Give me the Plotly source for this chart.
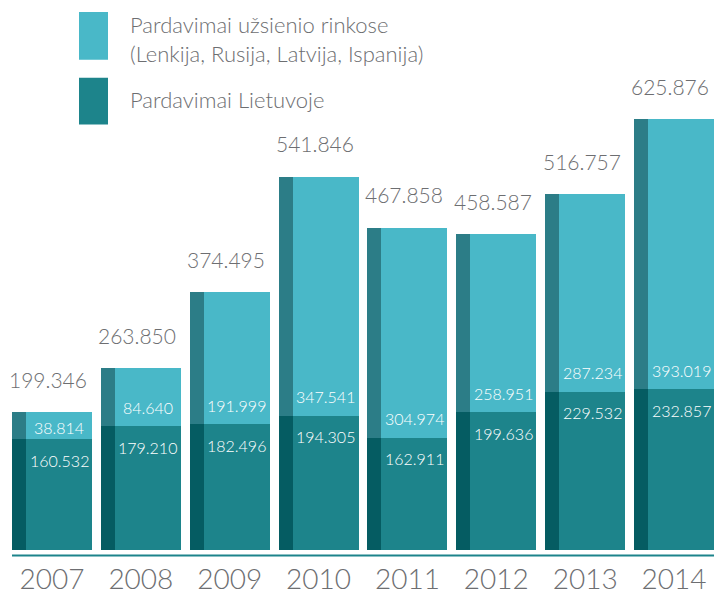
import plotly.graph_objects as go

years = ["2007", "2008", "2009", "2010", "2011", "2012", "2013", "2014"]
lietuvoje = [160.532, 179.210, 182.496, 194.305, 162.911, 199.636, 229.532, 232.857]
uzsienio = [38.814, 84.640, 191.999, 347.541, 304.974, 258.951, 287.234, 393.019]
totals = [199.346, 263.850, 374.495, 541.846, 467.858, 458.587, 516.757, 625.876]

legend_labels = ["Pardavimai užsienio rinkose<br>(Lenkija, Rusija, Latvija, Ispanija)",
                 "Pardavimai Lietuvoje"]

C_LIGHT = "#49b8c8"
C_LIGHT_SIDE = "#2c7d87"
C_DARK = "#1d848b"
C_DARK_SIDE = "#055c62"
GRAY = "#6d6e71"
FONT = "Lato"
WT = 300

W, H = 724, 595
B = 33
PH = H - B
PXU = 0.69  # pixels per unit
ZERO_PX = 551.5
ymin = -(PH - ZERO_PX) / PXU
ymax = ymin + PH / PXU

x = list(range(len(years)))
BW = 0.9
SW = 0.158
OFF = -0.45

fig = go.Figure()
fig.add_trace(go.Bar(x=x, y=lietuvoje, base=[0]*len(x), width=BW, offset=OFF,
                     marker=dict(color=C_DARK, line=dict(width=0)), name=legend_labels[1],
                     showlegend=False, hoverinfo="skip"))
fig.add_trace(go.Bar(x=x, y=uzsienio, base=lietuvoje, width=BW, offset=OFF,
                     marker=dict(color=C_LIGHT, line=dict(width=0)), name=legend_labels[0],
                     showlegend=False, hoverinfo="skip"))
fig.add_trace(go.Bar(x=x, y=lietuvoje, base=[0]*len(x), width=SW, offset=OFF,
                     marker=dict(color=C_DARK_SIDE, line=dict(width=0)),
                     showlegend=False, hoverinfo="skip"))
fig.add_trace(go.Bar(x=x, y=uzsienio, base=lietuvoje, width=SW, offset=OFF,
                     marker=dict(color=C_LIGHT_SIDE, line=dict(width=0)),
                     showlegend=False, hoverinfo="skip"))

ann = []
for i in x:
    ann.append(dict(x=i - 0.04, y=totals[i], xref="x", yref="y", text=f"{totals[i]:.3f}",
                    showarrow=False, yshift=33, yanchor="middle",
                    font=dict(family=FONT, size=21, color=GRAY, weight=WT)))
    cx = i + OFF + SW + (BW - SW) / 2
    top_shift = 12 if uzsienio[i] < 50 else 19
    ann.append(dict(x=cx, y=lietuvoje[i], xref="x", yref="y", text=f"{uzsienio[i]:.3f}",
                    showarrow=False, yshift=top_shift, yanchor="middle",
                    font=dict(family=FONT, size=16, color="white", weight=WT)))
    ann.append(dict(x=cx, y=lietuvoje[i], xref="x", yref="y", text=f"{lietuvoje[i]:.3f}",
                    showarrow=False, yshift=-21, yanchor="middle",
                    font=dict(family=FONT, size=16, color="white", weight=WT)))


def py(p):
    return (PH - p) / PH


ann.append(dict(x=128 / W, y=py(39), xref="paper", yref="paper", text=legend_labels[0],
                showarrow=False, xanchor="left", yanchor="middle", align="left",
                font=dict(family=FONT, size=22, color=GRAY, weight=WT)))
ann.append(dict(x=128 / W, y=py(100), xref="paper", yref="paper", text=legend_labels[1],
                showarrow=False, xanchor="left", yanchor="middle", align="left",
                font=dict(family=FONT, size=22, color=GRAY, weight=WT)))

shapes = [
    dict(type="rect", xref="paper", yref="paper", x0=79 / W, x1=108 / W, y0=py(60), y1=py(12),
         fillcolor=C_LIGHT, line=dict(width=0)),
    dict(type="rect", xref="paper", yref="paper", x0=79 / W, x1=108 / W, y0=py(125), y1=py(78),
         fillcolor=C_DARK, line=dict(width=0)),
    dict(type="line", xref="x", yref="y", x0=-0.45, x1=7.45,
         y0=-(557.5 - ZERO_PX) / PXU, y1=-(557.5 - ZERO_PX) / PXU,
         line=dict(color=C_DARK, width=2)),
]

pitch = 88.86
x0 = -52 / pitch
x1 = x0 + W / pitch

fig.update_layout(
    width=W, height=H,
    margin=dict(l=0, r=0, t=0, b=B),
    paper_bgcolor="white", plot_bgcolor="white",
    barmode="overlay", bargap=0,
    showlegend=False,
    xaxis=dict(range=[x0, x1], tickvals=x, ticktext=years, showgrid=False, zeroline=False,
               showline=False, ticks="", tickfont=dict(family=FONT, size=28, color=GRAY, weight=WT)),
    yaxis=dict(range=[ymin, ymax], visible=False, showgrid=False, zeroline=False),
    annotations=ann, shapes=shapes,
)

fig.write_html("out.html", config={"displayModeBar": False},
               post_script="document.body.style.margin='0';document.body.style.overflow='hidden';")
